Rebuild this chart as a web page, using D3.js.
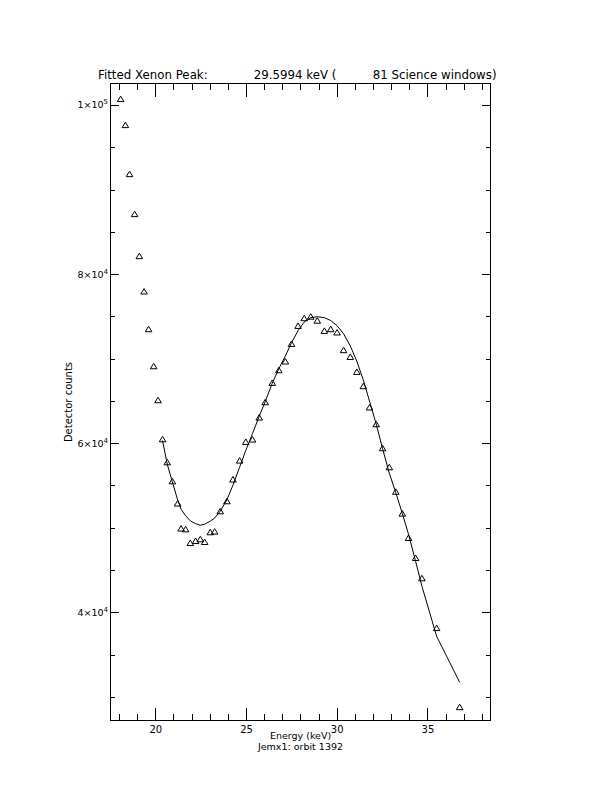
<!DOCTYPE html>
<html><head><meta charset="utf-8">
<script src="https://cdn.jsdelivr.net/npm/d3@7"></script>
<style>body{margin:0;background:#fff}svg{display:block}</style>
</head><body>
<svg id="chart" width="612" height="792"></svg>
<script>
// ---------- data ----------
const energy = [18.09,18.35,18.58,18.86,19.12,19.38,19.63,19.91,20.15,20.40,20.66,20.94,21.23,21.42,21.67,21.93,22.22,22.48,22.72,23.03,23.27,23.58,23.95,24.28,24.65,24.99,25.36,25.73,26.06,26.45,26.81,27.17,27.51,27.87,28.21,28.57,28.93,29.32,29.67,30.02,30.38,30.75,31.11,31.47,31.81,32.18,32.53,32.90,33.26,33.62,33.96,34.35,34.70,35.51,36.78];
const counts = [100710,97630,91830,87100,82130,77950,73490,69110,65090,60470,57750,55500,52870,49910,49820,48200,48440,48640,48320,49470,49550,51950,53140,55710,57950,60160,60440,63040,64850,67140,68640,69670,71750,73880,74790,74970,74500,73290,73490,73100,71010,70210,68440,66750,64230,62250,59410,57160,54260,51680,48800,46430,44030,38140,28790];
const fitStartIndex = 9;
const fitCounts = [60300,57500,55420,53300,52190,51420,50810,50480,50300,50420,50770,51150,51950,53320,55030,57160,59170,61130,63200,64910,67100,68820,70300,71890,73310,74320,74850,74950,74850,74500,73900,72950,71500,69700,67450,64970,62250,59350,56450,54140,51680,49230,46040,43080,37160,31720];

const xDomain = [17.53, 38.48];
const yDomain = [27200, 102540];
const xMajorTicks = [20, 25, 30, 35];
const xMinorTicks = [18,19,21,22,23,24,26,27,28,29,31,32,33,34,36,37,38];
const yMajorTicks = [40000, 60000, 80000, 100000];
const yTickMantissa = ["4", "6", "8", "1"];
const yTickExponent = ["4", "4", "4", "5"];
const yMinorTicks = [30000,35000,45000,50000,55000,65000,70000,75000,85000,90000,95000];
const titleParts = ["Fitted Xenon Peak:", "29.5994 keV (", "81 Science windows)"];
const xTitle = "Energy (keV)";
const subTitle = "Jemx1: orbit 1392";
const yTitle = "Detector counts";

// ---------- layout ----------
const L = 110.5, R = 490.5, T = 83.5, B = 720.5;
const FONT = "DejaVu Sans, Liberation Sans, sans-serif";
const svg = d3.select("#chart");
svg.append("rect").attr("width",612).attr("height",792).attr("fill","#fff");

const x = d3.scaleLinear().domain(xDomain).range([L, R]);
const y = d3.scaleLinear().domain(yDomain).range([B, T]);

function styleAxis(g){
  g.select(".domain").remove();
  g.selectAll("line").attr("stroke","#000").attr("stroke-width",1).attr("shape-rendering","crispEdges");
  g.selectAll("text").attr("fill","#000").attr("font-family",FONT);
}

// bottom axis: major (with labels) and minor
svg.append("g").attr("transform",`translate(0,${B})`)
  .call(d3.axisBottom(x).tickValues(xMajorTicks).tickSize(-13).tickSizeOuter(0).tickPadding(5).tickFormat(d3.format("d")))
  .call(styleAxis).call(g=>g.selectAll("text").attr("font-size",10));
svg.append("g").attr("transform",`translate(0,${B})`)
  .call(d3.axisBottom(x).tickValues(xMinorTicks).tickSize(-6.5).tickSizeOuter(0).tickFormat(""))
  .call(styleAxis);
// top axis
svg.append("g").attr("transform",`translate(0,${T})`)
  .call(d3.axisTop(x).tickValues(xMajorTicks).tickSize(-13).tickSizeOuter(0).tickFormat(""))
  .call(styleAxis);
svg.append("g").attr("transform",`translate(0,${T})`)
  .call(d3.axisTop(x).tickValues(xMinorTicks).tickSize(-6.5).tickSizeOuter(0).tickFormat(""))
  .call(styleAxis);
// left axis
svg.append("g").attr("transform",`translate(${L},0)`)
  .call(d3.axisLeft(y).tickValues(yMajorTicks).tickSize(-8.5).tickSizeOuter(0).tickFormat(""))
  .call(styleAxis);
svg.append("g").attr("transform",`translate(${L},0)`)
  .call(d3.axisLeft(y).tickValues(yMinorTicks).tickSize(-4.5).tickSizeOuter(0).tickFormat(""))
  .call(styleAxis);
// right axis
svg.append("g").attr("transform",`translate(${R},0)`)
  .call(d3.axisRight(y).tickValues(yMajorTicks).tickSize(-8.5).tickSizeOuter(0).tickFormat(""))
  .call(styleAxis);
svg.append("g").attr("transform",`translate(${R},0)`)
  .call(d3.axisRight(y).tickValues(yMinorTicks).tickSize(-4.5).tickSizeOuter(0).tickFormat(""))
  .call(styleAxis);

// y tick labels with exponent
const yl = svg.append("g").attr("font-family",FONT).attr("fill","#000");
yMajorTicks.forEach((v,i)=>{
  const t = yl.append("text").attr("x",L-2.5).attr("y",y(v)+3.5).attr("text-anchor","end").attr("font-size",9.5);
  t.append("tspan").text(yTickMantissa[i] + "\u00d710");
  t.append("tspan").attr("font-size",7).attr("dy",-4).text(yTickExponent[i]);
});

// frame
svg.append("rect").attr("x",L).attr("y",T).attr("width",R-L).attr("height",B-T)
  .attr("fill","none").attr("stroke","#000").attr("stroke-width",1).attr("shape-rendering","crispEdges");

// fit curve
const fitData = fitCounts.map((c,i)=>({e: energy[i+fitStartIndex], c}));
svg.append("path").datum(fitData)
  .attr("d", d3.line().x(d=>x(d.e)).y(d=>y(d.c)))
  .attr("fill","none").attr("stroke","#000").attr("stroke-width",1);

// data triangles
svg.append("g").selectAll("path").data(energy.map((e,i)=>({e, c: counts[i]})))
  .join("path")
  .attr("transform", d=>`translate(${x(d.e)},${y(d.c)})`)
  .attr("d","M-3.3,2.6L0,-2.9L3.3,2.6Z")
  .attr("fill","none").attr("stroke","#000").attr("stroke-width",1);

// titles
const tt = svg.append("text").attr("y",78.5).attr("font-family",FONT).attr("font-size",11.8).attr("fill","#000");
tt.append("tspan").attr("x",98).text(titleParts[0]);
tt.append("tspan").attr("x",250).text(" " + titleParts[1]);
tt.append("tspan").attr("x",369).text(" " + titleParts[2]);

svg.append("text").attr("x",(L+R)/2).attr("y",738.5).attr("text-anchor","middle")
  .attr("font-family",FONT).attr("font-size",9.5).attr("fill","#000").text(xTitle);
svg.append("text").attr("x",(L+R)/2).attr("y",749.5).attr("text-anchor","middle")
  .attr("font-family",FONT).attr("font-size",9.5).attr("fill","#000").text(subTitle);
svg.append("text").attr("transform",`translate(71.5,${(T+B)/2}) rotate(-90)`).attr("text-anchor","middle")
  .attr("font-family",FONT).attr("font-size",10).attr("fill","#000").text(yTitle);
</script>
</body></html>
